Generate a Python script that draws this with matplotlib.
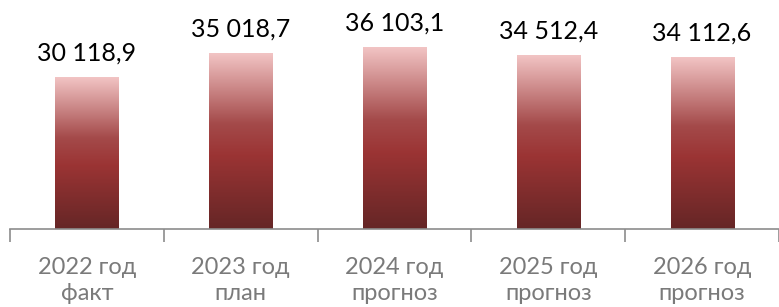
import numpy as np
import matplotlib.pyplot as plt
from matplotlib.colors import LinearSegmentedColormap

categories = ["2022 год\nфакт", "2023 год\nплан", "2024 год\nпрогноз",
              "2025 год\nпрогноз", "2026 год\nпрогноз"]
values = [30118.9, 35018.7, 36103.1, 34512.4, 34112.6]
labels = ["30 118,9", "35 018,7", "36 103,1", "34 512,4", "34 112,6"]

plt.rcParams["font.family"] = ["Lato", "DejaVu Sans"]

# bar gradient: light pink on top, dark red at the bottom
cmap = LinearSegmentedColormap.from_list(
    "bar", [(0.0, "#652626"), (0.42, "#9b3434"), (0.6, "#a44a4a"), (1.0, "#f2c4c4")]
)

fig = plt.figure(figsize=(7.79, 3.07), dpi=100)
ax = fig.add_axes([10 / 779, 1 - 229 / 307, 1 - 10 / 779, 229 / 307])

x = np.arange(len(values))
width = 0.41
grad = np.linspace(0, 1, 256).reshape(-1, 1)
for xi, v in zip(x, values):
    ax.imshow(grad, cmap=cmap, origin="lower", aspect="auto",
              extent=(xi - width / 2, xi + width / 2, 0, v), zorder=2)

for xi, v, lab in zip(x, values, labels):
    ax.text(xi, v + 3400, lab, ha="center", va="baseline", fontsize=18, color="black")

ax.set_xlim(-0.5, len(values) - 0.5)
ax.set_ylim(0, 45670)

for s in ["top", "right", "left"]:
    ax.spines[s].set_visible(False)
ax.spines["bottom"].set_color("#8c8c8c")
ax.spines["bottom"].set_linewidth(1.2)

ax.set_yticks([])
ax.set_xticks(np.arange(len(values) + 1) - 0.5)
ax.set_xticklabels([])
ax.tick_params(axis="x", length=9, width=1.2, color="#8c8c8c")
ax.set_xticks(x, minor=True)
ax.set_xticklabels(categories, minor=True, fontsize=17, color="#7a7a7a", linespacing=1.3)
ax.tick_params(axis="x", which="minor", length=0, pad=20)

fig.savefig("out.png", dpi=100)
